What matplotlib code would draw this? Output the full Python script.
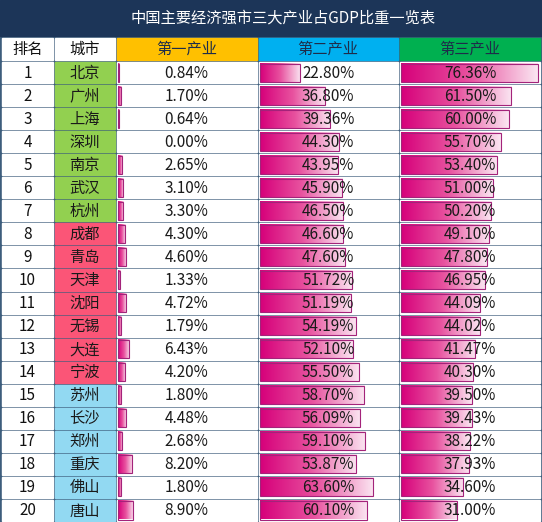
import numpy as np
import matplotlib
matplotlib.use('Agg')
import matplotlib.pyplot as plt
from matplotlib.patches import Rectangle
from matplotlib.colors import LinearSegmentedColormap

plt.rcParams['font.family'] = ['Noto Sans CJK SC', 'DejaVu Sans']

# data
title = '中国主要经济强市三大产业占GDP比重一览表'
headers = ['排名', '城市', '第一产业', '第二产业', '第三产业']
ranks = list(range(1, 21))
cities = ['北京', '广州', '上海', '深圳', '南京', '武汉', '杭州',
          '成都', '青岛', '天津', '沈阳', '无锡', '大连', '宁波',
          '苏州', '长沙', '郑州', '重庆', '佛山', '唐山']
primary = [0.84, 1.70, 0.64, 0.00, 2.65, 3.10, 3.30, 4.30, 4.60, 1.33,
           4.72, 1.79, 6.43, 4.20, 1.80, 4.48, 2.68, 8.20, 1.80, 8.90]
secondary = [22.80, 36.80, 39.36, 44.30, 43.95, 45.90, 46.50, 46.60, 47.60, 51.72,
             51.19, 54.19, 52.10, 55.50, 58.70, 56.09, 59.10, 53.87, 63.60, 60.10]
tertiary = [76.36, 61.50, 60.00, 55.70, 53.40, 51.00, 50.20, 49.10, 47.80, 46.95,
            44.09, 44.02, 41.47, 40.30, 39.50, 39.43, 38.22, 37.93, 34.60, 31.00]
city_group = [0] * 7 + [1] * 7 + [2] * 6

# style
grid_col = '#3d5d7c'
title_bg = '#1c3558'
group_cols = ['#92d050', '#fb5577', '#92d9f2']
head_cols = ['white', 'white', '#ffc000', '#00b0f0', '#00b050']
bar_cmap = LinearSegmentedColormap.from_list('bar', ['#d6007a', '#e8529f', '#fbe6f2'])

W, H = 542, 522
col_x = [1, 54, 115.5, 257.5, 399, 541]
title_h = 37
head_top, head_bot = 37, 61
row_h = 23.05

fig = plt.figure(figsize=(W / 100, H / 100), dpi=100)
ax = fig.add_axes([0, 0, 1, 1])
ax.axis('off')

ax.add_patch(Rectangle((0, 0), W, H, color=grid_col, zorder=0))
ax.add_patch(Rectangle((0, 0), W, title_h - 1, color=title_bg, zorder=1))
ax.text(283, title_h / 2, title, color='white', fontsize=11,
        ha='center', va='center', zorder=5)


def cell(ci, y0, y1, color):
    x0, x1 = col_x[ci], col_x[ci + 1]
    ax.add_patch(Rectangle((x0 + 1, y0 + 1), x1 - x0 - 2, y1 - y0 - 2,
                           color=color, zorder=1))
    return x0, x1


# header
for ci, h in enumerate(headers):
    x0, x1 = cell(ci, head_top, head_bot, head_cols[ci])
    tc = '#111111' if ci < 2 else '#1e2d4a'
    ax.text((x0 + x1) / 2, (head_top + head_bot) / 2 + 0.5, h, color=tc,
            fontsize=11, ha='center', va='center', zorder=5)

vmax = max(max(primary), max(secondary), max(tertiary))
grad = np.linspace(0, 1, 256).reshape(1, -1)

for i in range(len(cities)):
    y0 = head_bot + i * row_h
    y1 = y0 + row_h
    yc = (y0 + y1) / 2 + 0.5
    x0, x1 = cell(0, y0, y1, 'white')
    ax.text((x0 + x1) / 2, yc, str(ranks[i]), fontsize=11, color='#111111',
            ha='center', va='center', zorder=5)
    x0, x1 = cell(1, y0, y1, group_cols[city_group[i]])
    ax.text((x0 + x1) / 2, yc, cities[i], fontsize=11, color='#1a1a1a',
            ha='center', va='center', zorder=5)
    for ci, vals in zip([2, 3, 4], [primary, secondary, tertiary]):
        x0, x1 = cell(ci, y0, y1, 'white')
        v = vals[i]
        bw = v / vmax * (x1 - x0 - 5)
        if bw > 0:
            bx = x0 + 2
            by0, by1 = y0 + 2.5, y1 - 2.5
            ax.imshow(grad, cmap=bar_cmap, aspect='auto', zorder=2,
                      extent=[bx, bx + bw, by1, by0], interpolation='bilinear')
            ax.add_patch(Rectangle((bx, by0), bw, by1 - by0, fill=False,
                                   edgecolor='#a3237a', lw=0.8, zorder=3))
        ax.text((x0 + x1) / 2, yc, f'{v:.2f}%', fontsize=11, color='#1a1a1a',
                ha='center', va='center', zorder=5)

ax.set_xlim(0, W)
ax.set_ylim(H, 0)
fig.savefig('out.png', dpi=100)
